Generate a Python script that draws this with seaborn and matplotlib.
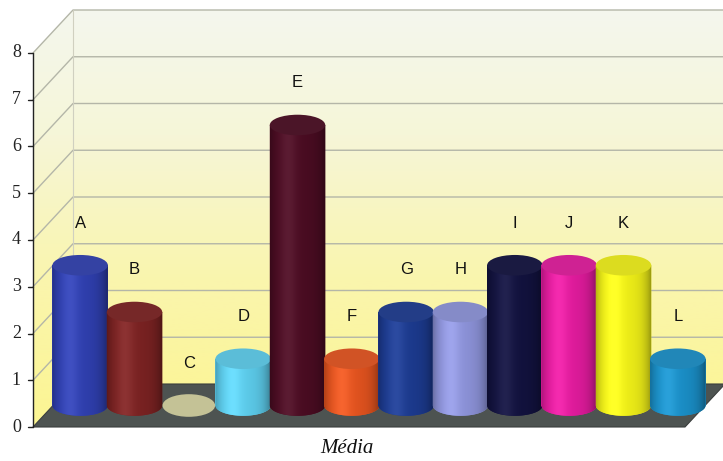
import numpy as np
import pandas as pd
import matplotlib
matplotlib.use("Agg")
import matplotlib.pyplot as plt
import matplotlib.transforms as mtransforms
from matplotlib.patches import Ellipse, Polygon
from matplotlib.colors import to_rgb, LinearSegmentedColormap
import seaborn as sns

# data
categories = ["A", "B", "C", "D", "E", "F", "G", "H", "I", "J", "K", "L"]
values = [3, 2, 0, 1, 6, 1, 2, 2, 3, 3, 3, 1]
bar_colors = ["#2f3fae", "#7a2222", "#c4c296", "#5ccbea", "#4a0c22", "#e2531f",
              "#1c3a8e", "#8c92d8", "#12123e", "#e01b9c", "#eeee18", "#1a8ec6"]
yticks = [0, 1, 2, 3, 4, 5, 6, 7, 8]
xlabel = "Média"

sns.set_theme(style="white")
plt.rcParams["font.family"] = ["Liberation Serif", "DejaVu Serif"]

W, H = 723, 461
fig = plt.figure(figsize=(W / 100, H / 100), dpi=100)
# one axes over the whole figure, limits chosen so the front plane of the
# box runs from pixel x 33..685 and y 427..53 (top-down)
ax = fig.add_axes([0, 0, 1, 1])
ax.patch.set_visible(False)

df = pd.DataFrame({"cat": categories, "val": values})
sns.barplot(data=df, x="cat", y="val", hue="cat", palette=bar_colors,
            width=1.02, legend=False, ax=ax, saturation=1)
bars = list(ax.patches)

x0, x1 = -0.5, len(categories) - 0.5
ytop = yticks[-1]
ppx = (685 - 33) / (x1 - x0)
ppu = (427 - 53) / ytop


def set_limits():
    ax.set_xlim(x0 - 33 / ppx, x1 + (W - 685) / ppx)
    ax.set_ylim(0 - (H - 427) / ppu, ytop + 53 / ppu)


set_limits()

DX, DY = 40, 43   # depth of the box, pixels
ident = mtransforms.IdentityTransform()


def P(x, v, f):
    # display point of (x, value) pushed back by fraction f of the depth
    px, py = ax.transData.transform((x, v))
    return (px + DX * f, py + DY * f)


# walls with a vertical gradient (yellow at bottom, pale at top)
wall = Polygon([P(x0, 0, 0), P(x0, 0, 1), P(x1 + 2, 0, 1), P(x1 + 2, ytop, 1),
                P(x0, ytop, 1), P(x0, ytop, 0)], closed=True,
               transform=ident, facecolor="none", edgecolor="none", zorder=0)
ax.add_patch(wall)
grad = np.linspace(0, 1, 256).reshape(-1, 1)
cmap = LinearSegmentedColormap.from_list(
    "wall", [(0, "#fcf592"), (0.35, "#faf5ad"), (0.7, "#f6f6d8"), (1, "#f4f7ee")])
im = ax.imshow(grad, cmap=cmap, origin="lower", aspect="auto",
               extent=[x0, x1 + 2, 0, ytop + DY / ppu], zorder=0)
im.set_clip_path(wall)

# gridlines on the back wall and left wall
for t in yticks[1:]:
    a, b, c = P(x0, t, 0), P(x0, t, 1), P(x1 + 2, t, 1)
    ax.plot([a[0], b[0], c[0]], [a[1], b[1], c[1]], transform=ident,
            color="#b4b6a8", lw=1.0, zorder=1, clip_on=False)
a, b = P(x0, 0, 1), P(x0, ytop, 1)
ax.plot([a[0], b[0]], [a[1], b[1]], transform=ident, color="#d0d0c0",
        lw=0.8, zorder=1, clip_on=False)

# floor
floor = Polygon([P(x0, 0, 0), P(x1, 0, 0), P(x1, 0, 1), P(x0, 0, 1)],
                closed=True, transform=ident, facecolor="#4d5351",
                edgecolor="#3a3e3d", lw=0.8, zorder=2, clip_on=False)
ax.add_patch(floor)

# front axis
a, b = P(x0, 0, 0), P(x0, ytop, 0)
ax.plot([a[0], b[0]], [a[1], b[1]], transform=ident, color="#222222", lw=1.0,
        zorder=3, clip_on=False)
for t in yticks:
    px, py = P(x0, t, 0)
    ax.plot([px - 5, px], [py, py], transform=ident, color="#222222", lw=1.0,
            zorder=3, clip_on=False)
    ax.text(px - 12, py, str(t), transform=ident, ha="right", va="center",
            fontsize=13, color="#222222")

# cylinders: shift the seaborn bars to mid depth and add ellipse caps
mid = mtransforms.ScaledTranslation(DX * 0.5 / 100, DY * 0.5 / 100, fig.dpi_scale_trans)
shifted = ax.transData + mid
ell_h = 0.44
theta = np.linspace(np.pi, 2 * np.pi, 40)
for i, bar in enumerate(bars):
    col = np.array(to_rgb(bar_colors[i]))
    bx, bw, bh = bar.get_x(), bar.get_width(), bar.get_height()
    cx = bx + bw / 2
    z = 4 + i * 0.01
    if bh > 0:
        bar.set_transform(shifted)
        bar.set_zorder(z)
        bar.set_edgecolor("none")
        # body outline: lower half of the base ellipse up to the top
        outline = np.column_stack([cx + bw / 2 * np.cos(theta),
                                   ell_h / 2 * np.sin(theta)])
        outline = np.vstack([outline, [[bx + bw, bh], [bx, bh]]])
        body = Polygon(outline, closed=True, transform=shifted,
                       facecolor=col, edgecolor="none", zorder=z)
        ax.add_patch(body)
        # soft shading across the body
        s = np.linspace(-1, 1, 64)
        light = 1 - 0.3 * s ** 4 - 0.08 * s
        rgb = np.clip(col[None, :] * light[:, None]
                      + 0.06 * np.exp(-((s + 0.35) / 0.3) ** 2)[:, None], 0, 1)
        simg = ax.imshow(rgb[None, :, :], extent=[bx, bx + bw, -ell_h / 2, bh],
                         aspect="auto", transform=shifted, zorder=z + 0.001)
        simg.set_clip_path(body)
        topc = np.clip(col * 0.88 + 0.04, 0, 1)
        top = Ellipse((cx, bh), bw, ell_h, transform=shifted,
                      facecolor=topc, edgecolor="none", zorder=z + 0.002)
        ax.add_patch(top)
    else:
        bar.set_visible(False)
        flat = Ellipse((cx, 0), bw * 0.95, ell_h * 1.1, transform=shifted,
                       facecolor=col, edgecolor="none", zorder=z)
        ax.add_patch(flat)
    ax.text(cx, bh + 0.9, categories[i], transform=shifted, ha="center",
            va="center", fontsize=12, family=["Liberation Sans", "DejaVu Sans"],
            color="#111111", zorder=6)

set_limits()
ax.set_xticks([])
ax.set_yticks([])
ax.set_xlabel("")
ax.set_ylabel("")
for sp in ax.spines.values():
    sp.set_visible(False)

fig.text(347 / W, 1 - 448 / H, xlabel, ha="center", va="center",
         fontsize=15, style="italic", color="#111111")

fig.savefig("out.png", dpi=100, facecolor="white")
